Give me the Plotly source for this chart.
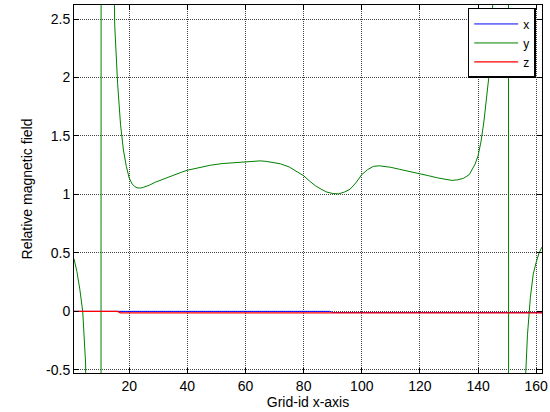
import plotly.graph_objects as go

# ---- data ----
grid_x = [1, 2, 3, 4, 5, 6, 7, 8, 9, 10, 11, 12, 13, 14, 15, 16, 17, 18, 19, 20,
          21, 22, 23, 24, 25, 27, 29, 32, 35, 38, 40, 44, 48, 52, 56, 60, 63, 65,
          67, 70, 72, 75, 78, 80, 82, 84, 86, 88, 90, 92, 94, 96, 98, 100, 102,
          104, 106, 108, 110, 113, 116, 120, 123, 126, 129, 131, 133, 135, 137,
          138, 139, 140, 141, 142, 143, 144, 145, 146, 147, 148, 149, 150, 151,
          152, 153, 154, 155, 156, 157, 158, 159, 160, 161, 162]
field_y = [0.45, 0.34, 0.19, 0.0, -0.45, -1.6, -4.5, -10, -20, -30, 70, 25, 9, 4.2,
           2.45, 1.95, 1.6, 1.38, 1.24, 1.14, 1.09, 1.065, 1.055, 1.055, 1.062,
           1.08, 1.105, 1.135, 1.165, 1.19, 1.207, 1.23, 1.25, 1.264, 1.27, 1.273,
           1.282, 1.287, 1.283, 1.272, 1.262, 1.235, 1.19, 1.16, 1.115, 1.075,
           1.045, 1.02, 1.008, 1.005, 1.02, 1.045, 1.1, 1.17, 1.212, 1.24, 1.245,
           1.24, 1.232, 1.215, 1.2, 1.18, 1.16, 1.142, 1.128, 1.12, 1.125, 1.138,
           1.17, 1.21, 1.26, 1.33, 1.45, 1.62, 1.85, 2.07, 2.55, 4, 8, 15, 30, 60,
           -60, -30, -14, -6, -2.5, -0.75, -0.2, 0.12, 0.32, 0.42, 0.5, 0.55]

field_x_pos = [1, 89, 90, 162]
field_x = [0.0, 0.0, -0.01, -0.01]

field_z_pos = [1, 16, 17, 162]
field_z = [0.0, 0.0, -0.012, -0.012]

y_tick_vals = [-0.5, 0, 0.5, 1, 1.5, 2, 2.5]
y_tick_text = ["-0.5", "0", "0.5", "1", "1.5", "2", "2.5"]
x_tick_vals = [20, 40, 60, 80, 100, 120, 140, 160]

FONT = "Liberation Sans, Arial, Helvetica, sans-serif"

fig = go.Figure()
fig.add_trace(go.Scatter(x=field_x_pos, y=field_x, mode="lines", name="x",
                         line=dict(color="rgb(0,0,255)", width=1)))
fig.add_trace(go.Scatter(x=grid_x, y=field_y, mode="lines", name="y",
                         line=dict(color="rgb(0,128,0)", width=1)))
fig.add_trace(go.Scatter(x=field_z_pos, y=field_z, mode="lines", name="z",
                         line=dict(color="rgb(255,0,0)", width=1.2)))

axis_common = dict(
    showline=True, linecolor="black", linewidth=1, mirror="ticks",
    ticks="inside", ticklen=5, tickcolor="black", tickwidth=1,
    showgrid=True, gridcolor="#444444", gridwidth=1, griddash="1px,1px",
    zeroline=False, tickfont=dict(family=FONT, size=14, color="black"),
)

fig.update_xaxes(range=[1, 162], tickvals=x_tick_vals,
                 title=dict(text="Grid-id x-axis", font=dict(family=FONT, size=14, color="black"), standoff=4),
                 **axis_common)
fig.update_yaxes(range=[-0.527, 2.62], tickvals=y_tick_vals, ticktext=y_tick_text,
                 title=dict(text="Relative magnetic field", font=dict(family=FONT, size=14, color="black"), standoff=10),
                 **axis_common)

fig.update_layout(
    width=550, height=412,
    margin=dict(l=74, r=8, t=5, b=39, autoexpand=False),
    paper_bgcolor="white", plot_bgcolor="white",
    font=dict(family=FONT, size=14, color="black"),
    showlegend=True,
    legend=dict(x=0.9865, y=0.992, xanchor="right", yanchor="top",
                bgcolor="white", bordercolor="black", borderwidth=1.5,
                font=dict(family=FONT, size=12, color="black"),
                itemwidth=44, tracegroupgap=0),
)

fig.write_html("out.html", config={"displayModeBar": False},
               post_script="document.body.style.margin='0';document.body.style.overflow='hidden';")
